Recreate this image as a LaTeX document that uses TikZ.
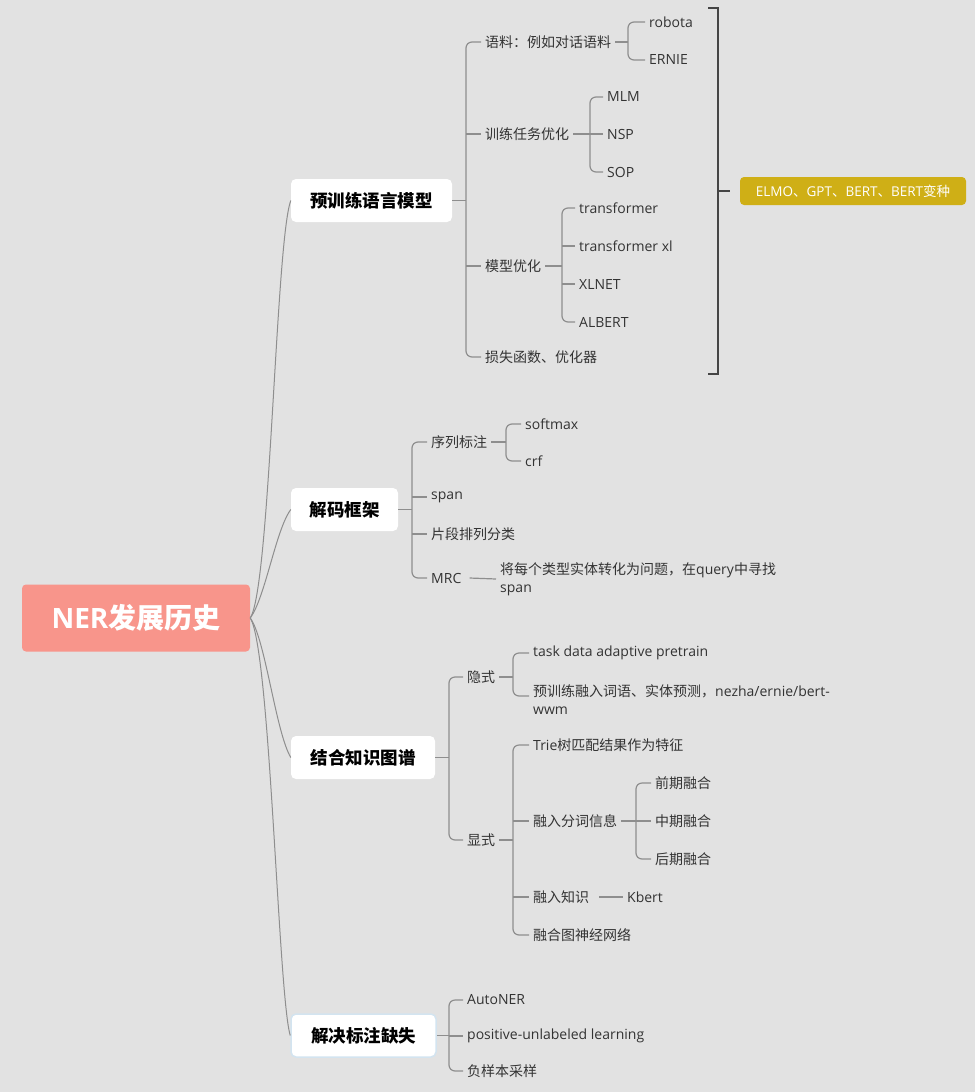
\documentclass[tikz,border=0pt]{standalone}
\usepackage{fontspec}
\setmainfont{Open Sans}
\newfontfamily\zh{Noto Sans CJK SC}
\usetikzlibrary{calc}
\definecolor{bgc}{HTML}{E2E2E2}
\definecolor{lnc}{HTML}{8E8E8E}
\definecolor{txc}{HTML}{333333}
\definecolor{rootc}{HTML}{F8958B}
\definecolor{goldc}{HTML}{CFAF16}
\definecolor{sumc}{HTML}{454545}
\definecolor{selc}{HTML}{D3E4F0}
\tikzset{
 leaf/.style={anchor=west, inner xsep=4pt, inner ysep=1pt, text=txc, font=\fontsize{14}{18}\selectfont, align=left},
 mainbox/.style={fill=white, rounded corners=5pt, minimum height=43pt, inner xsep=0pt, text=black, font=\zh\bfseries\fontsize{17.5}{20}\selectfont},
 conn/.style={draw=lnc, line width=1.2pt, rounded corners=6pt},
 rootlink/.style={draw=lnc, line width=1pt},
 sumline/.style={draw=sumc, line width=2pt},
}
\begin{document}
\begin{tikzpicture}[x=1pt,y=-1pt]
\fill[bgc] (0,0) rectangle (975,1092);
\useasboundingbox (0,0) rectangle (975,1092);

% root and main nodes
\node[fill=rootc, rounded corners=4pt, minimum width=228pt, minimum height=67pt, text=white, font=\bfseries\fontsize{28}{30}\selectfont] (root) at (136,618) {NER{\zh 发展历史}};
\node[mainbox, minimum width=161pt] (m1) at (371.5,200.5) {预训练语言模型};
\node[mainbox, minimum width=107pt] (m2) at (344.5,509.5) {解码框架};
\node[mainbox, minimum width=144pt] (m3) at (363,757.5) {结合知识图谱};
\node[mainbox, minimum width=145pt, draw=selc, line width=1.5pt] (m4) at (363.5,1035.5) {解决标注缺失};

\draw[rootlink] (root.east) .. controls +(20,-30) and +(-15,40) .. (m1.west);
\draw[rootlink] (root.east) .. controls +(15,-20) and +(-15,20) .. (m2.west);
\draw[rootlink] (root.east) .. controls +(15,20) and +(-15,-25) .. (m3.west);
\draw[rootlink] (root.east) .. controls +(20,30) and +(-12,-40) .. (m4.west);

% group 1
\node[leaf] (a1) at (481,42) {\zh 语料：例如对话语料};
\node[leaf] (a2) at (481,134) {\zh 训练任务优化};
\node[leaf] (a3) at (481,266) {\zh 模型优化};
\node[leaf] (a4) at (481,357) {\zh 损失函数、优化器};
\node[leaf] (a11) at (645,22) {robota};
\node[leaf] (a12) at (645,60) {ERNIE};
\node[leaf] (a21) at (603,97) {MLM};
\node[leaf] (a22) at (603,134) {NSP};
\node[leaf] (a23) at (603,172) {SOP};
\node[leaf] (a31) at (575,208) {transformer};
\node[leaf] (a32) at (575,246) {transformer xl};
\node[leaf] (a33) at (575,284) {XLNET};
\node[leaf] (a34) at (575,322) {ALBERT};
\coordinate (s1) at (466,0);
\coordinate (s11) at (628,0);
\coordinate (s12) at (590,0);
\coordinate (s13) at (562,0);
\draw[conn] (m1.east) -- (m1.east -| s1);
\draw[conn] (a1.west) -- (a1.west -| s1) -- (a4.west -| s1) -- (a4.west);
\draw[conn] (a2.west -| s1) -- (a2.west);
\draw[conn] (a3.west -| s1) -- (a3.west);
\draw[conn] (a1.east) -- (a1.east -| s11);
\draw[conn] (a11.west) -- (a11.west -| s11) -- (a12.west -| s11) -- (a12.west);
\draw[conn] (a2.east) -- (a22.west);
\draw[conn] (a21.west) -- (a21.west -| s12) -- (a23.west -| s12) -- (a23.west);
\draw[conn] (a3.east) -- (a3.east -| s13);
\draw[conn] (a31.west) -- (a31.west -| s13) -- (a34.west -| s13) -- (a34.west);
\draw[conn] (a32.west -| s13) -- (a32.west);
\draw[conn] (a33.west -| s13) -- (a33.west);

% summary
\node[fill=goldc, rounded corners=4pt, minimum width=226pt, minimum height=28pt, inner xsep=0pt, text=white, font=\fontsize{13.5}{15}\selectfont] (sum) at (853,191) {ELMO{\zh 、}GPT{\zh 、}BERT{\zh 、}BERT{\zh 变种}};
\coordinate (bt) at (718,8);
\coordinate (bb) at (718,374);
\coordinate (bm) at (718,191);
\draw[sumline] ($(bt)+(-10,0)$) -- (bt) -- (bb) -- ($(bb)+(-10,0)$);
\draw[sumline] (bm) -- ($(sum.west)+(-10,0)$);

% group 2
\node[leaf] (b1) at (427,442) {\zh 序列标注};
\node[leaf] (b2) at (427,497) {span};
\node[leaf] (b3) at (427,534) {\zh 片段排列分类};
\node[leaf] (b4) at (427,578) {MRC};
\node[leaf] (b11) at (521,424) {softmax};
\node[leaf] (b12) at (521,461) {crf};
\node[leaf] (b41) at (496,579) {{\zh 将每个类型实体转化为问题，在}query{\zh 中寻找}\\span};
\coordinate (s2) at (412,0);
\coordinate (s21) at (506,0);
\draw[conn] (m2.east) -- (m2.east -| s2);
\draw[conn] (b1.west) -- (b1.west -| s2) -- (b4.west -| s2) -- (b4.west);
\draw[conn] (b2.west -| s2) -- (b2.west);
\draw[conn] (b3.west -| s2) -- (b3.west);
\draw[conn] (b1.east) -- (b1.east -| s21);
\draw[conn] (b11.west) -- (b11.west -| s21) -- (b12.west -| s21) -- (b12.west);
\draw[conn] ($(b4.east)+(4,0)$) -- (b41.west);

% group 3
\node[leaf] (c1) at (463,677) {\zh 隐式};
\node[leaf] (c2) at (463,840) {\zh 显式};
\node[leaf] (c11) at (529,653) {task data adaptive pretrain};
\node[leaf] (c12) at (529,700) {{\zh 预训练融入词语、实体预测，}nezha/ernie/bert-\\wwm};
\node[leaf] (c21) at (529,745) {{Trie\zh 树匹配结果作为特征}};
\node[leaf] (c22) at (529,821) {\zh 融入分词信息};
\node[leaf] (c23) at (529,897) {\zh 融入知识};
\node[leaf] (c24) at (529,935) {\zh 融合图神经网络};
\node[leaf] (c221) at (651,783) {\zh 前期融合};
\node[leaf] (c222) at (651,821) {\zh 中期融合};
\node[leaf] (c223) at (651,859) {\zh 后期融合};
\node[leaf] (c231) at (623,897) {Kbert};
\coordinate (s3) at (449,0);
\coordinate (s31) at (513,0);
\coordinate (s32) at (636,0);
\draw[conn] (m3.east) -- (m3.east -| s3);
\draw[conn] (c1.west) -- (c1.west -| s3) -- (c2.west -| s3) -- (c2.west);
\draw[conn] (c1.east) -- (c1.east -| s31);
\draw[conn] (c11.west) -- (c11.west -| s31) -- ($(c12.west -| s31)+(0,-4)$) -- ($(c12.west)+(0,-4)$);
\draw[conn] (c2.east) -- (c2.east -| s31);
\draw[conn] (c21.west) -- (c21.west -| s31) -- (c24.west -| s31) -- (c24.west);
\draw[conn] (c22.west -| s31) -- (c22.west);
\draw[conn] (c23.west -| s31) -- (c23.west);
\draw[conn] (c22.east) -- (c22.east -| s32);
\draw[conn] (c221.west) -- (c221.west -| s32) -- (c223.west -| s32) -- (c223.west);
\draw[conn] (c222.west -| s32) -- (c222.west);
\draw[conn] ($(c23.east)+(6,0)$) -- (c231.west);

% group 4
\node[leaf] (d1) at (463,1000) {AutoNER};
\node[leaf] (d2) at (463,1036) {positive-unlabeled learning};
\node[leaf] (d3) at (463,1071) {\zh 负样本采样};
\coordinate (s4) at (449,0);
\draw[conn] (m4.east) -- (m4.east -| s4);
\draw[conn] (d1.west) -- (d1.west -| s4) -- (d3.west -| s4) -- (d3.west);
\draw[conn] (d2.west -| s4) -- (d2.west);
\end{tikzpicture}
\end{document}
